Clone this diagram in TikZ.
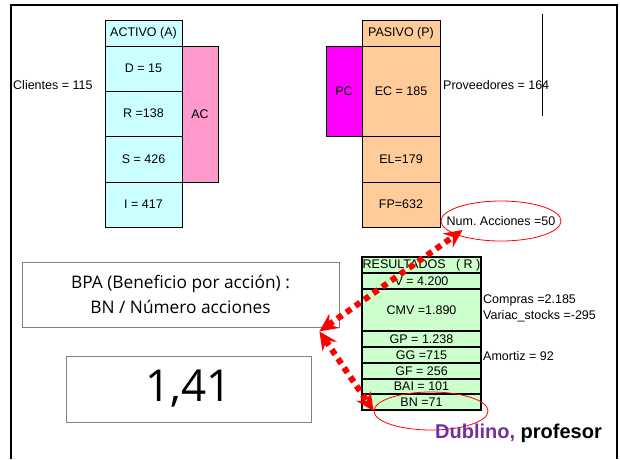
\documentclass[tikz,border=0pt]{standalone}
\usepackage{fontspec}
\setmainfont{Liberation Sans}
\newfontfamily\comicfont{Open Sans}
\usepackage{xcolor}
\usetikzlibrary{arrows.meta, positioning, shapes.geometric}
\definecolor{activo}{HTML}{CCFFFF}
\definecolor{pasivo}{HTML}{FFCC99}
\definecolor{result}{HTML}{CCFFCC}
\definecolor{acpink}{HTML}{FF99CC}
\definecolor{pcmag}{HTML}{FF00FF}
\definecolor{dublino}{HTML}{7030A0}
\frenchspacing

\begin{document}
\begin{tikzpicture}[x=1pt, y=-1pt,
      node distance=0pt,
      cell/.style={draw, line width=1pt, inner sep=0pt, outer sep=0pt,
                   font=\fontsize{12.5}{14}\selectfont},
      acell/.style={cell, fill=activo, minimum width=77pt},
      pcell/.style={cell, fill=pasivo, minimum width=78pt},
      rcell/.style={cell, line width=1.3pt, fill=result, minimum width=119pt, minimum height=16pt},
      side/.style={anchor=west, inner sep=0pt, font=\fontsize{12.5}{14}\selectfont},
      ring/.style={ellipse, draw=red, line width=0.8pt, inner sep=0pt},
      bigtip/.tip={Stealth[length=18pt, width=17pt, inset=6pt]},
      dotarr/.style={red, line width=6pt, dash pattern=on 6pt off 5pt, bigtip-bigtip},
      bpabox/.style={draw=gray, line width=0.8pt, align=center}
    ]
    \useasboundingbox (0,0) rectangle (620,459);

    \coordinate (ftl) at (11,5);
    \coordinate (ftr) at (617,5);
    \coordinate (fbl) at (11,459);
    \coordinate (fbr) at (617,459);
    \draw[line width=2pt] (fbl) -- (ftl) -- (ftr) -- (fbr);

    \node[acell, minimum height=26pt] (acthead) at (143.5,33) {ACTIVO (A)};
    \node[acell, minimum height=45pt, below=of acthead] (disp) {D = 15};
    \node[acell, minimum height=45pt, below=of disp] (real) {R =138};
    \node[acell, minimum height=46pt, below=of real] (stock) {S = 426};
    \node[acell, minimum height=45pt, below=of stock] (inmov) {I = 417};
    \node[cell, fill=acpink, minimum width=36pt, minimum height=136pt,
          anchor=north west] (ac) at (disp.north east) {AC};

    \node[pcell, minimum height=26pt] (pashead) at (401,33) {PASIVO (P)};
    \node[pcell, minimum height=90pt, below=of pashead] (ec) {EC = 185};
    \node[pcell, minimum height=46pt, below=of ec] (el) {EL=179};
    \node[pcell, minimum height=45pt, below=of el] (fp) {FP=632};
    \node[cell, fill=pcmag, minimum width=36pt, minimum height=90pt,
          anchor=north east] (pc) at (ec.north west) {PC};

    \node[side] (clientes) at (13,85) {Clientes = 115};
    \node[side] (proveed) at (443,85) {Proveedores = 164};
    \coordinate (vtop) at (542,14);
    \coordinate (vbot) at (542,116);
    \draw[line width=0.8pt] (vtop) -- (vbot);

    \node[rcell] (reshead) at (421.5,265) {RESULTADOS~~~(~R~)};
    \node[rcell, below=of reshead] (ventas) {V = 4.200};
    \node[rcell, minimum height=42pt, below=of ventas] (cmv) {CMV =1.890};
    \node[rcell, below=of cmv] (gp) {GP = 1.238};
    \node[rcell, below=of gp] (gg) {GG =715};
    \node[rcell, below=of gg] (gf) {GF = 256};
    \node[rcell, minimum height=15pt, below=of gf] (bai) {BAI = 101};
    \node[rcell, below=of bai] (bn) {BN =71};

    \node[side] (compras) at (483,300) {Compras =2.185};
    \node[side] (variac) at (483,316) {Variac\_stocks =-295};
    \node[side] (amortiz) at (483,356) {Amortiz = 92};

    \node[ring, inner xsep=-12pt, minimum width=120pt, minimum height=40pt,
          font=\fontsize{12.5}{14}\selectfont] (numacc) at (501,221) {Num. Acciones =50};
    \node[ring, minimum width=114pt, minimum height=38pt] (bnring) at (431,411) {};

    \node[bpabox, minimum width=317pt, minimum height=65pt,
          font=\comicfont\fontsize{17.3}{25}\selectfont] (bpa) at (180.5,294.5)
          {BPA (Beneficio por acción) :\\BN / Número acciones};
    \node[bpabox, minimum width=245pt, minimum height=66pt,
          font=\comicfont\fontsize{44}{50}\selectfont] (valor) at (188.5,389) {1,41};

    \coordinate (meet) at ([xshift=-20pt, yshift=-4pt]bpa.south east);
    \draw[dotarr] (meet) -- ([shift={(22,9)}]numacc.west);
    \draw[dotarr] (meet) -- (bnring.west);

    \node[anchor=west, inner sep=0pt, font=\bfseries\fontsize{20}{22}\selectfont]
          (firma) at (435,433) {\textcolor{dublino}{Dublino,} profesor};
  \end{tikzpicture}
\end{document}
